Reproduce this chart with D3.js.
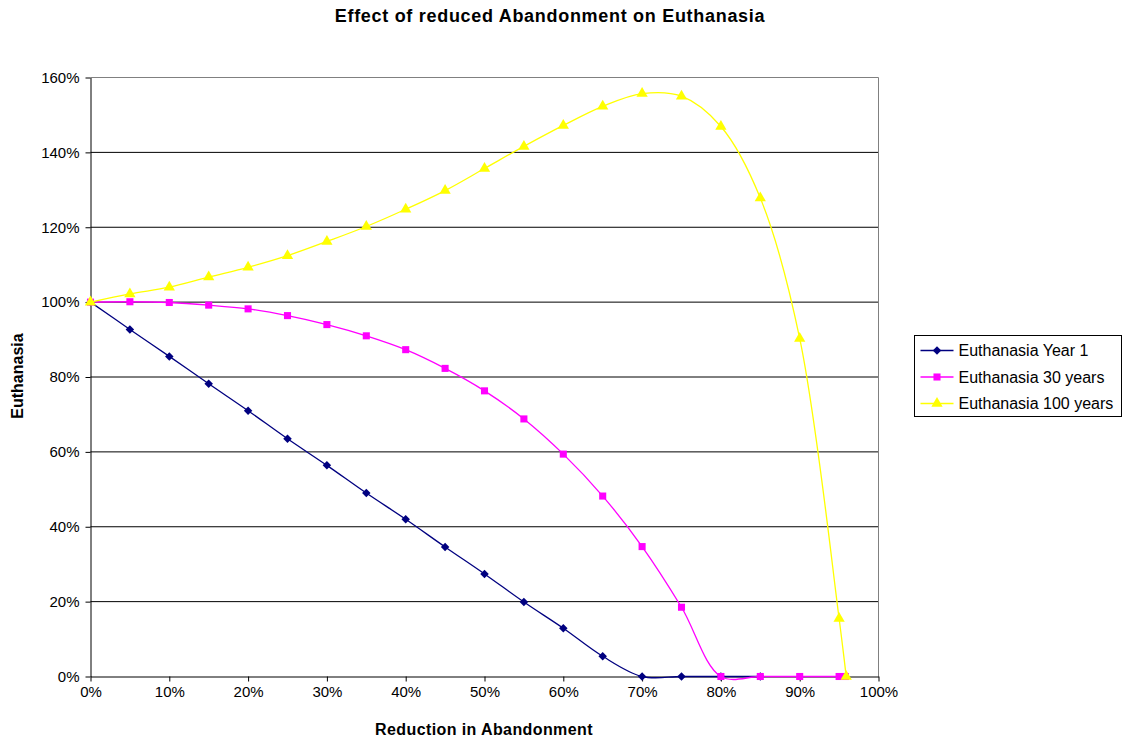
<!DOCTYPE html>
<html>
<head>
<meta charset="utf-8">
<script src="https://cdn.jsdelivr.net/npm/d3@7"></script>
<style>
  body { margin: 0; background: #fff; }
  text { font-family: "Liberation Sans", Arial, sans-serif; }
</style>
</head>
<body>
<div id="chart"></div>
<script>
// reduction in abandonment (%) and euthanasia (%) for each series
var xYear1 = [0, 5, 10, 15, 20, 25, 30, 35, 40, 45, 50, 55, 60, 65, 70, 75, 80, 85]
var yYear1 = [100, 92.7, 85.5, 78.2, 71, 63.5, 56.4, 49, 42, 34.6, 27.4, 19.9, 12.9, 5.4, 0, 0, 0, 0]

var x30 = [0, 5, 10, 15, 20, 25, 30, 35, 40, 45, 50, 55, 60, 65, 70, 75, 80, 85, 90, 95, 95.8]
var y30 = [100, 100.1, 99.9, 99.2, 98.2, 96.4, 94, 91, 87.3, 82.3, 76.3, 68.8, 59.4, 48.2, 34.7, 18.5, 0, 0, 0, 0, 0]

var x100 = [0, 5, 10, 15, 20, 25, 30, 35, 40, 45, 50, 55, 60, 65, 70, 75, 80, 85, 90, 95, 95.9]
var y100 = [100, 102.2, 104, 106.7, 109.3, 112.4, 116.2, 120.2, 124.8, 129.8, 135.7, 141.6, 147.2, 152.3, 155.7, 155, 146.9, 127.8, 90.3, 15.5, 0]

var seriesNames = ["Euthanasia Year 1", "Euthanasia 30 years", "Euthanasia 100 years"]
var seriesColors = ["#000080", "#ff00ff", "#ffff00"]
var yTicks = [0, 20, 40, 60, 80, 100, 120, 140, 160]
var xTicks = [0, 10, 20, 30, 40, 50, 60, 70, 80, 90, 100]

var width = 1125
var height = 738
var margin = {top: 77, right: 247, bottom: 62, left: 90}

var svg = d3.select("#chart")
  .append("svg")
  .attr("width", width)
  .attr("height", height)

var x = d3.scaleLinear().domain([0, 100]).range([margin.left + 0.5, width - margin.right + 0.5])
var y = d3.scaleLinear().domain([0, 160]).range([height - margin.bottom + 0.5, margin.top + 0.5])

// grid
svg.append("g")
  .selectAll("line")
  .data(yTicks.slice(1, -1))
  .enter().append("line")
    .attr("x1", x(0)).attr("x2", x(100))
    .attr("y1", function(d) { return y(d) }).attr("y2", function(d) { return y(d) })
    .attr("stroke", "#000")

// plot border (top + right are grey)
svg.append("path")
  .attr("d", "M" + x(0) + "," + y(160) + "H" + x(100) + "V" + y(0))
  .attr("fill", "none")
  .attr("stroke", "#808080")

var fmt = function(d) { return d + "%" }

svg.append("g")
  .attr("transform", "translate(" + x(0) + ",0)")
  .call(d3.axisLeft(y).tickValues(yTicks).tickFormat(fmt).tickSize(5).tickSizeOuter(0).tickPadding(6))
svg.append("g")
  .attr("transform", "translate(0," + y(0) + ")")
  .call(d3.axisBottom(x).tickValues(xTicks).tickFormat(fmt).tickSize(5).tickSizeOuter(0).tickPadding(5))

svg.selectAll(".tick text")
  .attr("font-size", 15)
  .attr("font-family", "\"Liberation Sans\", Arial, sans-serif")
  .attr("fill", "#000")
svg.selectAll(".domain, .tick line").attr("stroke", "#000")

// series, markers: rotated square, square, triangle
var curve = d3.curveCatmullRom.alpha(0.5)
var symbols = [d3.symbolSquare, d3.symbolSquare, d3.symbolTriangle]
var symSizes = [36, 50, 55]
var symRotate = [45, 0, 0]
var all = [[xYear1, yYear1], [x30, y30], [x100, y100]]

all.forEach(function(s, i) {
  var pts = s[0].map(function(v, j) { return [v, s[1][j]] })
  var line = d3.line()
    .x(function(d) { return x(d[0]) })
    .y(function(d) { return y(d[1]) })
    .curve(curve)
  svg.append("path")
    .datum(pts)
    .attr("fill", "none")
    .attr("stroke", seriesColors[i])
    .attr("stroke-width", 1.3)
    .attr("d", line)
  svg.append("g")
    .selectAll("path")
    .data(pts)
    .enter().append("path")
      .attr("transform", function(d) { return "translate(" + x(d[0]) + "," + y(d[1]) + ") rotate(" + symRotate[i] + ")" })
      .attr("d", d3.symbol().type(symbols[i]).size(symSizes[i]))
      .attr("fill", seriesColors[i])
})

// titles
svg.append("text")
  .attr("x", 550).attr("y", 22)
  .attr("text-anchor", "middle")
  .attr("font-size", 18).attr("font-weight", "bold")
  .attr("letter-spacing", 0.7)
  .text("Effect of reduced Abandonment on Euthanasia")

svg.append("text")
  .attr("x", 484).attr("y", 735)
  .attr("text-anchor", "middle")
  .attr("font-size", 16).attr("font-weight", "bold")
  .attr("letter-spacing", 0.4)
  .text("Reduction in Abandonment")

svg.append("text")
  .attr("transform", "translate(23,376) rotate(-90)")
  .attr("text-anchor", "middle")
  .attr("font-size", 16).attr("font-weight", "bold")
  .text("Euthanasia")

// legend
var lg = svg.append("g").attr("transform", "translate(914.5,335.5)")
lg.append("rect")
  .attr("width", 207).attr("height", 81)
  .attr("fill", "#fff").attr("stroke", "#000")
seriesNames.forEach(function(name, i) {
  var cy = 15 + i * 26.5
  lg.append("line")
    .attr("x1", 6).attr("x2", 39)
    .attr("y1", cy).attr("y2", cy)
    .attr("stroke", seriesColors[i]).attr("stroke-width", 1.3)
  lg.append("path")
    .attr("transform", "translate(22.5," + cy + ") rotate(" + symRotate[i] + ")")
    .attr("d", d3.symbol().type(symbols[i]).size(symSizes[i]))
    .attr("fill", seriesColors[i])
  lg.append("text")
    .attr("x", 44).attr("y", cy + 5.5)
    .attr("font-size", 16)
    .text(name)
})
</script>
</body>
</html>
